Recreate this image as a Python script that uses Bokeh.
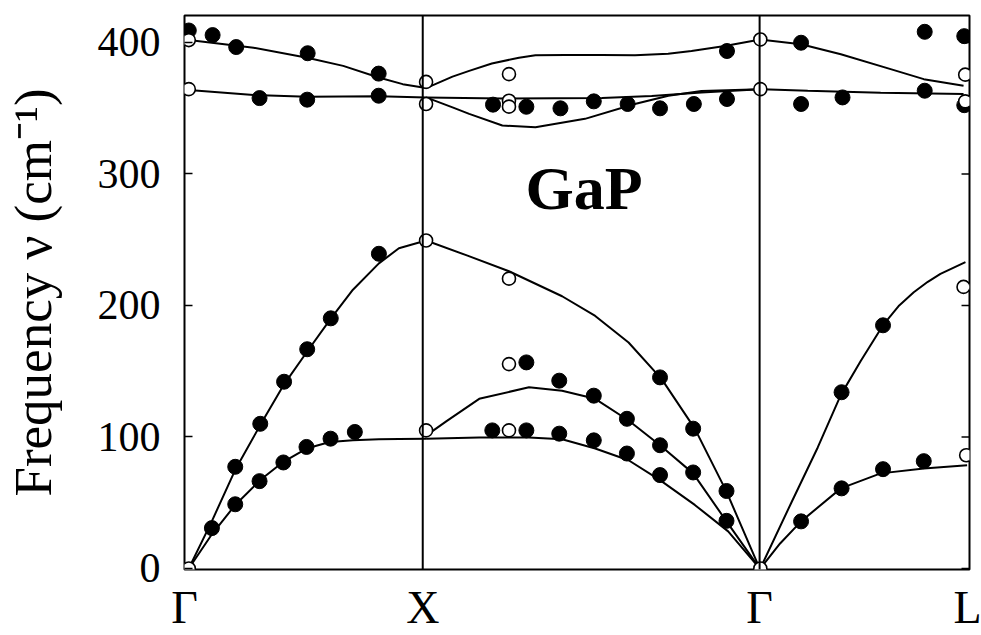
from bokeh.plotting import figure
from bokeh.models import Range1d, FixedTicker, Span
from bokeh.embed import file_html
from bokeh.resources import INLINE
from bokeh.core.properties import value

# ---- symmetry points (reduced wave-vector coordinate) ----
sym_pos = [0.0, 1.0, 2.414, 3.295]
sym_labels = ["Γ", "X", "Γ", "L"]
y_ticks = [0, 100, 200, 300, 400]

# ---- measured data: filled circles ----
filled_x = [0.018, 0.118, 0.217, 0.517, 0.815,
            0.315, 0.515, 0.815,
            1.295, 1.435, 1.578, 1.718, 1.860, 1.996, 2.138, 2.277, 2.277,
            2.588, 3.107, 3.273, 2.588, 2.762, 3.107, 3.273,
            0.115, 0.213, 0.318, 0.418, 0.515, 0.614, 0.816,
            0.213, 0.315, 0.415, 0.512, 0.613, 0.715,
            1.996, 2.135, 2.275,
            1.435, 1.573, 1.718, 1.857, 1.996, 2.135, 2.275,
            1.292, 1.435, 1.573, 1.718, 1.857, 1.996,
            2.758, 2.932, 2.588, 2.758, 2.932, 3.103]
filled_y = [409.1, 405.6, 396.5, 391.8, 376.3,
            357.7, 356.5, 359.5,
            352.7, 351.1, 349.9, 355.2, 353.2, 349.9, 353.2, 357.0, 393.5,
            399.8, 408.1, 404.8, 353.2, 358.2, 363.3, 352.3,
            30.7, 77.3, 110.0, 142.0, 166.7, 190.2, 239.3,
            48.8, 66.4, 80.6, 92.4, 98.7, 103.8,
            145.3, 106.3, 58.9,
            156.7, 142.8, 131.4, 113.8, 93.7, 73.0, 36.2,
            105.0, 105.0, 102.5, 97.4, 87.4, 71.0,
            134.0, 184.9, 35.8, 60.9, 75.5, 81.6]

# ---- measured data: open circles ----
open_x = [0.018, 0.018, 1.014, 1.014, 1.362, 1.362, 1.362, 2.417, 2.417, 3.277, 3.277,
          0.018, 1.014, 1.014, 1.362, 1.362, 1.362, 2.417, 3.270, 3.281]
open_y = [401.8, 364.5, 370.0, 353.2, 375.9, 355.7, 351.2, 402.3, 364.5, 375.5, 355.2,
          0.0, 249.4, 105.0, 220.4, 155.4, 105.0, 0.0, 214.1, 86.1]

# ---- calculated dispersion curves ----
gx_lo_x = [0.018, 0.29, 0.515, 0.666, 0.815, 0.916, 1.014]
gx_lo_y = [401.8, 396.0, 388.4, 382.2, 373.3, 368.3, 365.3]
gx_to_x = [0.018, 0.29, 0.515, 0.815, 1.014]
gx_to_y = [363.8, 360.1, 358.8, 359.0, 358.2]
xg_up_x = [1.014, 1.125, 1.195, 1.29, 1.404, 1.473, 1.6, 1.75, 1.891, 2.03, 2.128, 2.268, 2.417]
xg_up_y = [365.3, 374.0, 378.4, 384.0, 388.4, 390.2, 390.5, 390.4, 390.2, 391.5, 393.5, 397.3, 402.3]
xg_mid_x = [1.014, 1.334, 1.752, 1.961, 2.170, 2.417]
xg_mid_y = [358.2, 357.4, 357.7, 359.3, 362.0, 364.5]
xg_low_x = [1.014, 1.125, 1.195, 1.334, 1.473, 1.681, 1.890, 2.031, 2.170, 2.417]
xg_low_y = [358.2, 350.6, 345.7, 336.8, 335.5, 341.9, 353.2, 359.5, 363.0, 364.5]
gl_lo_x = [2.417, 2.588, 2.755, 2.964, 3.103, 3.270]
gl_lo_y = [402.3, 398.6, 391.0, 379.7, 372.1, 367.0]
gl_to_x = [2.417, 2.616, 2.922, 3.270]
gl_to_y = [364.5, 363.3, 361.8, 360.8]

gx_la_x = [0.018, 0.115, 0.213, 0.318, 0.418, 0.515, 0.614, 0.707, 0.816, 0.9, 1.014]
gx_la_y = [0.0, 36.0, 75.0, 109.0, 140.0, 165.0, 190.0, 212.0, 232.0, 243.5, 249.4]
gx_ta_x = [0.018, 0.115, 0.213, 0.318, 0.415, 0.512, 0.610, 0.707, 0.816, 0.9, 1.014]
gx_ta_y = [0.0, 26.0, 48.3, 67.2, 81.1, 91.2, 96.2, 97.4, 98.2, 98.5, 98.7]
xg_la_x = [1.014, 1.188, 1.362, 1.585, 1.724, 1.864, 2.003, 2.142, 2.275, 2.414]
xg_la_y = [249.4, 237.9, 226.0, 207.0, 192.0, 171.8, 144.0, 106.3, 58.4, 0.0]
xg_ta1_x = [1.014, 1.1, 1.237, 1.446, 1.585, 1.724, 1.864, 1.996, 2.135, 2.275, 2.414]
xg_ta1_y = [101.0, 112.0, 129.0, 137.8, 135.2, 129.0, 112.5, 93.7, 72.3, 35.8, 0.0]
xg_ta2_x = [1.014, 1.237, 1.446, 1.585, 1.724, 1.864, 1.996, 2.142, 2.282, 2.414]
xg_ta2_y = [98.7, 99.5, 99.5, 98.2, 91.2, 82.3, 67.2, 48.3, 28.2, 0.0]
gl_la_x = [2.417, 2.547, 2.658, 2.755, 2.839, 2.932, 3.0, 3.061, 3.12, 3.173, 3.278]
gl_la_y = [0.0, 50.0, 92.0, 132.0, 158.0, 185.0, 200.0, 210.0, 218.0, 224.0, 233.0]
gl_ta_x = [2.417, 2.5, 2.588, 2.755, 2.922, 3.103, 3.285]
gl_ta_y = [0.0, 19.0, 35.8, 60.9, 72.3, 76.0, 78.5]

curves = [(gx_lo_x, gx_lo_y), (gx_to_x, gx_to_y), (xg_up_x, xg_up_y),
          (xg_mid_x, xg_mid_y), (xg_low_x, xg_low_y), (gl_lo_x, gl_lo_y),
          (gl_to_x, gl_to_y), (gx_la_x, gx_la_y), (gx_ta_x, gx_ta_y),
          (xg_la_x, xg_la_y), (xg_ta1_x, xg_ta1_y), (xg_ta2_x, xg_ta2_y),
          (gl_la_x, gl_la_y), (gl_ta_x, gl_ta_y)]

title_text = ["GaP"]
title_x = [1.677]
title_y = [289.0]

FONT = "Liberation Serif"

W, H = 981, 635
BL, BR, BT, BB = 181, 12, 15, 66
x_lo, x_hi = sym_pos[0], sym_pos[-1]

p = figure(width=W, height=H,
           x_range=Range1d(x_lo, x_hi), y_range=Range1d(-0.8, 420.5),
           output_backend="svg", toolbar_location=None,
           min_border_left=BL, min_border_right=BR,
           min_border_top=BT, min_border_bottom=BB)

p.background_fill_color = "white"
p.border_fill_color = "white"
p.outline_line_color = "black"
p.outline_line_width = 2
p.grid.visible = False

# x axis: symmetry labels
p.xaxis.ticker = FixedTicker(ticks=sym_pos)
p.xaxis.major_label_overrides = {pos: lab for pos, lab in zip(sym_pos, sym_labels)}
p.xaxis.major_tick_in = 0
p.xaxis.major_tick_out = 0
p.xaxis.minor_tick_in = 0
p.xaxis.minor_tick_out = 0
p.xaxis.axis_line_color = None
p.xaxis.major_label_text_font = FONT
p.xaxis.major_label_text_font_size = "46px"
p.xaxis.major_label_text_color = "black"
p.xaxis.major_label_standoff = 12

# y axis
p.yaxis.ticker = FixedTicker(ticks=y_ticks)
p.yaxis.major_tick_in = 8
p.yaxis.major_tick_out = 0
p.yaxis.major_tick_line_width = 1.5
p.yaxis.minor_tick_in = 0
p.yaxis.minor_tick_out = 0
p.yaxis.axis_line_color = None
p.yaxis.major_label_text_font = FONT
p.yaxis.major_label_text_font_size = "42px"
p.yaxis.major_label_text_color = "black"
p.yaxis.major_label_standoff = 24
p.yaxis.axis_label = "Frequency ν (cm⁻¹)"
p.yaxis.axis_label_text_font = FONT
p.yaxis.axis_label_text_font_style = "normal"
p.yaxis.axis_label_text_font_size = "53px"
p.yaxis.axis_label_text_color = "black"
p.yaxis.axis_label_standoff = 33

# inward ticks on the right frame edge (same tick values as the left axis)
frame_w = W - BL - BR
tick_dx = 8 * (x_hi - x_lo) / frame_w
p.segment(x0=[x_hi] * len(y_ticks), y0=y_ticks,
          x1=[x_hi - tick_dx] * len(y_ticks), y1=y_ticks,
          line_color="black", line_width=1.5)

for loc in sym_pos[1:3]:
    p.add_layout(Span(location=loc, dimension="height",
                      line_color="black", line_width=2))

for cx, cy in curves:
    p.line(cx, cy, line_color="black", line_width=2)

p.scatter(filled_x, filled_y, size=15, fill_color="black", line_color="black")
p.scatter(open_x, open_y, size=13, fill_color="white", line_color="black", line_width=1.6)

p.text(x=title_x, y=title_y, text=title_text,
       text_font=value(FONT), text_font_style="bold", text_font_size="62px",
       text_align="center", text_baseline="middle", text_color="black")

open("out.html", "w").write(file_html(p, INLINE))
